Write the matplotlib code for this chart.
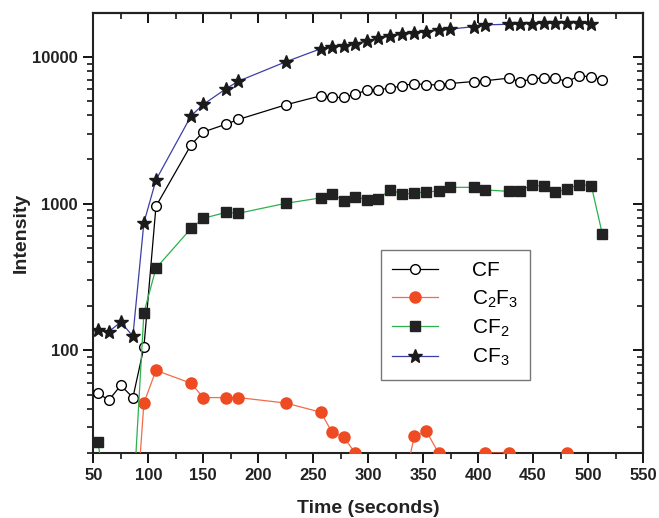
import numpy as np
import matplotlib
matplotlib.use("Agg")
import matplotlib.pyplot as plt
from matplotlib.ticker import FixedLocator, FuncFormatter, LogLocator, NullFormatter, MultipleLocator

plt.rcParams['font.family'] = ['Liberation Sans', 'DejaVu Sans']
plt.rcParams['mathtext.default'] = 'regular'

time_s = [54, 64, 75, 86, 96, 107, 139, 150, 171, 182, 225, 257, 267, 278, 288, 299,
          309, 320, 331, 342, 353, 364, 374, 396, 406, 428, 438, 449, 460, 470, 481, 492,
          503, 513]

cf = [51.5, 45.7, 57.8, 47.7, 105, 959, 2520, 3075, 3485, 3745, 4710, 5430, 5290, 5290,
      5570, 5930, 5970, 6120, 6350, 6580, 6450, 6450, 6580, 6790, 6870, 7160, 6790, 7050,
      7220, 7160, 6790, 7430, 7310, 6940]

c2f3 = [4, 4, 4, 3.8, 43.8, 73.1, 59.7, 47.7, 47.7, 47.7, 43.8, 37.9, 27.8, 25.7, 20.0,
        10, 10, 10, 11, 26.0, 28.1, 20.0, 10, 10, 20.0, 20.0, 10, 10, 10, 10, 20.0, 10,
        10, 10]

cf2 = [23.9, 9, 8, 8.5, 180, 363, 679, 794, 873, 859, 1005, 1094, 1165, 1048, 1117, 1060,
       1076, 1239, 1165, 1175, 1207, 1213, 1291, 1291, 1239, 1213, 1224, 1339, 1312, 1194,
       1259, 1346, 1325, 622]

cf3 = [137, 134, 156, 125, 740, 1450, 3970, 4740, 6080, 6830, 9250, 11370, 11650, 11880,
       12320, 12850, 13400, 13890, 14260, 14490, 14860, 15190, 15430, 16070, 16510, 16680,
       16850, 16850, 16960, 16960, 17110, 17110, 16680]

labels = ['CF', 'C$_2$F$_3$', 'CF$_2$', 'CF$_3$']
x_ticks = [50, 100, 150, 200, 250, 300, 350, 400, 450, 500, 550]
y_ticks = [100, 1000, 10000]

fig = plt.figure(figsize=(6.59, 5.18), dpi=100)
ax = fig.add_axes([0.1416, 0.1255, 0.9757 - 0.1416, 0.9743 - 0.1255])
ax.set_yscale('log')

lw = 0.9
ax.plot(time_s, cf, color='black', lw=lw, marker='o', ms=7, mfc='white', mec='black',
        mew=1.0, label=labels[0], zorder=3)
ax.plot(time_s, c2f3, color='#F26B4A', lw=lw, marker='o', ms=8, mfc='#EE4B23', mec='#EE4B23',
        label=labels[1], zorder=3)
ax.plot(time_s, cf2, color='#2BB24C', lw=lw, marker='s', ms=7, mfc='#222222', mec='#222222',
        label=labels[2], zorder=3)
ax.plot(time_s[:len(cf3)], cf3, color='#3B3FA6', lw=lw, marker='*', ms=10.5, mfc='#1a1a1a',
        mec='#1a1a1a', label=labels[3], zorder=3)

ax.set_xlim(50, 550)
ax.set_ylim(20, 19800)

ax.xaxis.set_major_locator(FixedLocator(x_ticks))
ax.xaxis.set_minor_locator(MultipleLocator(25))
ax.yaxis.set_major_locator(FixedLocator(y_ticks))
ax.yaxis.set_minor_locator(LogLocator(base=10, subs=np.arange(2, 10)))
ax.yaxis.set_major_formatter(FuncFormatter(lambda v, p: f"{int(round(v))}"))
ax.yaxis.set_minor_formatter(NullFormatter())

ax.tick_params(which='major', direction='out', length=7, width=1.3, labelsize=12,
               pad=4)
ax.tick_params(which='minor', direction='out', length=4, width=1.1)
for lab in ax.get_xticklabels() + ax.get_yticklabels():
    lab.set_fontweight('bold')
    lab.set_color('#222222')

for s in ax.spines.values():
    s.set_linewidth(1.5)
    s.set_color('#222222')

top = ax.secondary_xaxis('top')
top.xaxis.set_major_locator(FixedLocator(x_ticks))
top.xaxis.set_minor_locator(MultipleLocator(25))
top.tick_params(which='major', direction='in', length=7, width=1.3, labeltop=False)
top.tick_params(which='minor', direction='in', length=4, width=1.1)
top.spines['top'].set_linewidth(1.5)

right = ax.secondary_yaxis('right')
right.yaxis.set_major_locator(FixedLocator(y_ticks))
right.yaxis.set_minor_locator(LogLocator(base=10, subs=np.arange(2, 10)))
right.yaxis.set_minor_formatter(NullFormatter())
right.tick_params(which='major', direction='in', length=7, width=1.3, labelright=False)
right.tick_params(which='minor', direction='in', length=4, width=1.1)
right.spines['right'].set_linewidth(1.5)

ax.set_xlabel('Time (seconds)', fontsize=14, fontweight='bold', labelpad=12, color='#222222')
ax.set_ylabel('Intensity', fontsize=14, fontweight='bold', labelpad=2, color='#222222')

leg = ax.legend(loc='upper left',
                bbox_to_anchor=((380.7 - 93.3) / 549.7, 1 - (250 - 13.3) / 439.7),
                fontsize=15, frameon=True, fancybox=False, handlelength=2.2,
                handletextpad=1.65, borderpad=0.55, labelspacing=0.38, borderaxespad=0)
leg.get_frame().set_edgecolor('#555555')
leg.get_frame().set_linewidth(1.0)

fig.savefig('out.png', dpi=100)
